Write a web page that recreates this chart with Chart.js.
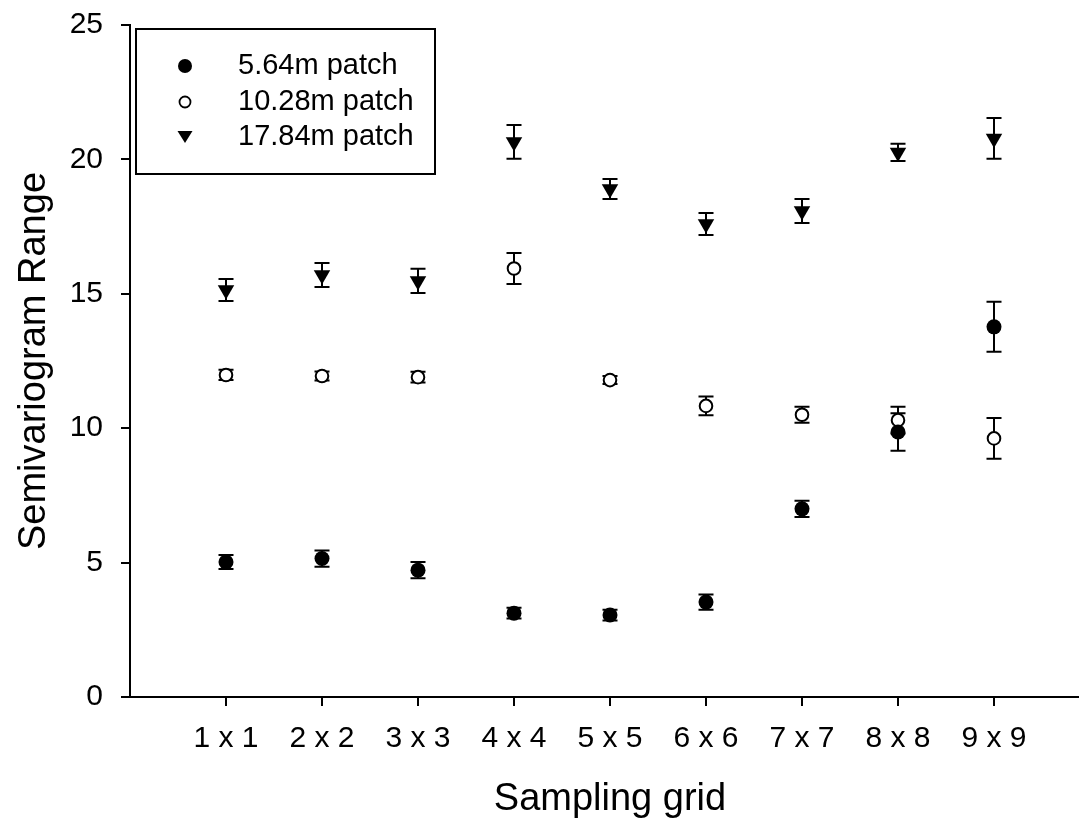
<!DOCTYPE html>
<html>
<head>
    <title>Semivariogram Range</title>
    <script src="https://cdn.jsdelivr.net/npm/chart.js"></script>
    <style>
        body { margin: 0; padding: 0; overflow: hidden; background: #fff; }
        .chart-box { width: 1100px; height: 822px; }
    </style>
</head>
<body>
    <div class="chart-box">
        <canvas id="rangeChart" width="1100" height="822"></canvas>
    </div>

    <script>
        // Data
        const categories = ['1 x 1', '2 x 2', '3 x 3', '4 x 4', '5 x 5', '6 x 6', '7 x 7', '8 x 8', '9 x 9'];
        const seriesNames = ['5.64m patch', '10.28m patch', '17.84m patch'];

        const patch564 = [5.02, 5.15, 4.72, 3.12, 3.05, 3.53, 7.0, 9.86, 13.77];
        const patch564Err = [0.26, 0.3, 0.3, 0.2, 0.2, 0.28, 0.3, 0.7, 0.93];

        const patch1028 = [11.98, 11.94, 11.9, 15.94, 11.79, 10.83, 10.5, 10.3, 9.62];
        const patch1028Err = [0.19, 0.17, 0.2, 0.58, 0.15, 0.35, 0.3, 0.5, 0.76];

        const patch1784 = [15.14, 15.7, 15.48, 20.65, 18.9, 17.6, 18.08, 20.26, 20.78];
        const patch1784Err = [0.41, 0.45, 0.45, 0.63, 0.37, 0.41, 0.45, 0.32, 0.76];

        const yTicks = [0, 5, 10, 15, 20, 25];

        const FONT = '"Liberation Sans", Arial, sans-serif';

        function toPoints(values) {
            return values.map((v, i) => ({ x: i + 1, y: v }));
        }

        // error bars, drawn under the markers
        const errorBars = {
            id: 'errorBars',
            beforeDatasetsDraw(chart) {
                const ctx = chart.ctx;
                const yScale = chart.scales.y;
                ctx.save();
                ctx.strokeStyle = '#000';
                ctx.lineWidth = 2;
                chart.data.datasets.forEach((ds, di) => {
                    const meta = chart.getDatasetMeta(di);
                    ds.errors.forEach((e, i) => {
                        const x = meta.data[i].x;
                        const top = yScale.getPixelForValue(ds.data[i].y + e);
                        const bottom = yScale.getPixelForValue(ds.data[i].y - e);
                        ctx.beginPath();
                        ctx.moveTo(x, top);
                        ctx.lineTo(x, bottom);
                        ctx.moveTo(x - 7.5, top);
                        ctx.lineTo(x + 7.5, top);
                        ctx.moveTo(x - 7.5, bottom);
                        ctx.lineTo(x + 7.5, bottom);
                        ctx.stroke();
                    });
                });
                ctx.restore();
            }
        };

        // boxed legend inside the plot
        const boxLegend = {
            id: 'boxLegend',
            afterDraw(chart) {
                const ctx = chart.ctx;
                ctx.save();
                ctx.strokeStyle = '#000';
                ctx.lineWidth = 2;
                ctx.strokeRect(136, 29, 299, 145);

                const rows = [66, 102, 137];
                const mx = 185;
                chart.data.datasets.forEach((ds, i) => {
                    const y = rows[i];
                    ctx.beginPath();
                    if (ds.pointStyle === 'triangle') {
                        ctx.moveTo(mx, y + 6);
                        ctx.lineTo(mx - 7.5, y - 6);
                        ctx.lineTo(mx + 7.5, y - 6);
                        ctx.closePath();
                        ctx.fillStyle = '#000';
                        ctx.fill();
                    } else if (ds.backgroundColor === '#000') {
                        ctx.arc(mx, y, 7, 0, Math.PI * 2);
                        ctx.fillStyle = '#000';
                        ctx.fill();
                    } else {
                        ctx.arc(mx, y, 5.5, 0, Math.PI * 2);
                        ctx.fillStyle = '#fff';
                        ctx.fill();
                        ctx.lineWidth = 1.8;
                        ctx.stroke();
                    }
                    ctx.fillStyle = '#000';
                    ctx.font = '29px ' + FONT;
                    ctx.textAlign = 'left';
                    ctx.textBaseline = 'middle';
                    ctx.fillText(ds.label, 238, y);
                });
                ctx.restore();
            }
        };

        const ctx = document.getElementById('rangeChart').getContext('2d');
        const chart = new Chart(ctx, {
            type: 'scatter',
            data: {
                datasets: [
                    {
                        label: seriesNames[0],
                        data: toPoints(patch564),
                        errors: patch564Err,
                        pointStyle: 'circle',
                        pointRadius: 7.5,
                        backgroundColor: '#000',
                        borderColor: '#000',
                        borderWidth: 0
                    },
                    {
                        label: seriesNames[1],
                        data: toPoints(patch1028),
                        errors: patch1028Err,
                        pointStyle: 'circle',
                        pointRadius: 6.3,
                        backgroundColor: '#fff',
                        borderColor: '#000',
                        borderWidth: 2
                    },
                    {
                        label: seriesNames[2],
                        data: toPoints(patch1784),
                        errors: patch1784Err,
                        pointStyle: 'triangle',
                        rotation: 180,
                        pointRadius: 9.5,
                        backgroundColor: '#000',
                        borderColor: '#000',
                        borderWidth: 0
                    }
                ]
            },
            options: {
                responsive: false,
                animation: false,
                layout: { padding: { top: 25, right: 10, left: 0, bottom: 0 } },
                plugins: {
                    legend: { display: false },
                    tooltip: { enabled: false }
                },
                scales: {
                    x: {
                        type: 'linear',
                        min: 0,
                        max: 10,
                        afterBuildTicks(scale) {
                            scale.ticks = categories.map((c, i) => ({ value: i + 1 }));
                        },
                        afterFit(scale) {
                            scale.height = 125;
                            scale.paddingLeft = 0;
                            scale.paddingRight = 0;
                        },
                        ticks: {
                            color: '#000',
                            font: { family: FONT, size: 30 },
                            padding: 15,
                            maxRotation: 0,
                            callback: (v) => categories[v - 1]
                        },
                        grid: {
                            drawOnChartArea: false,
                            drawTicks: true,
                            tickLength: 9,
                            color: '#000',
                            lineWidth: 2
                        },
                        border: { display: true, color: '#000', width: 2 },
                        title: {
                            display: true,
                            text: 'Sampling grid',
                            color: '#000',
                            font: { family: FONT, size: 38 },
                            padding: { top: 0, bottom: 0 }
                        }
                    },
                    y: {
                        min: 0,
                        max: 25,
                        afterBuildTicks(scale) {
                            scale.ticks = yTicks.map(v => ({ value: v }));
                        },
                        afterFit(scale) {
                            scale.width = 130;
                            scale.paddingTop = 0;
                            scale.paddingBottom = 0;
                        },
                        ticks: {
                            color: '#000',
                            font: { family: FONT, size: 30 },
                            padding: 18
                        },
                        grid: {
                            drawOnChartArea: false,
                            drawTicks: true,
                            tickLength: 9,
                            color: '#000',
                            lineWidth: 2
                        },
                        border: { display: true, color: '#000', width: 2 },
                        title: {
                            display: true,
                            text: 'Semivariogram Range',
                            color: '#000',
                            font: { family: FONT, size: 38 },
                            padding: { top: 12, bottom: 0 }
                        }
                    }
                }
            },
            plugins: [errorBars, boxLegend]
        });
    </script>
</body>
</html>
